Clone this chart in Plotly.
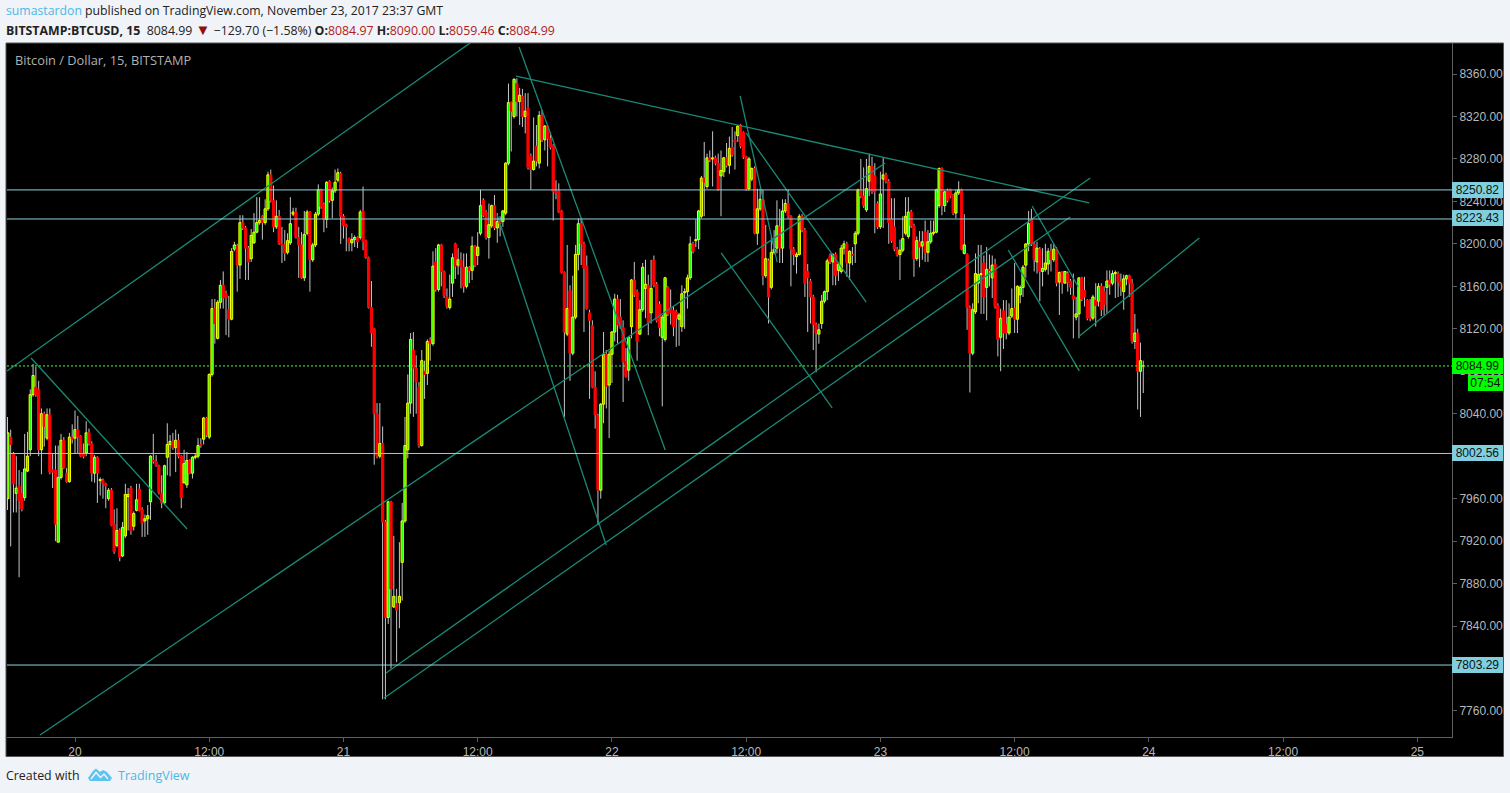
import numpy as np
import plotly.graph_objects as go

# 15-minute BTCUSD candles, hours are counted from Nov 20 00:00
FIRST_HOUR = -6.0
STEP_HOURS = 0.25

OPENS = [
7960,8018,8002,7965,7972,7965,7961,7986,8006,8058,
8065,8063,8006,8040,8017,8039,7987,7987,7919,7980,
8015,7984,7976,8018,8017,8025,8019,8002,8003,8022,
8012,7984,7999,7977,7977,7974,7960,7968,7936,7916,
7930,7906,7925,7962,7970,7934,7949,7969,7950,7939,
7941,7957,7996,7995,7991,7965,7956,7999,8011,8014,
8008,8015,8000,7975,7973,7996,7984,7999,8000,8011,
8016,8036,8018,8077,8139,8111,8145,8161,8153,8138,
8129,8195,8198,8180,8220,8215,8196,8186,8201,8211,
8220,8226,8220,8233,8265,8241,8216,8226,8200,8199,
8192,8201,8228,8230,8206,8199,8168,8210,8230,8185,
8199,8228,8251,8237,8223,8259,8241,8250,8260,8266,
8226,8218,8205,8201,8204,8206,8206,8231,8203,8187,
8140,8120,8040,8000,8012,7938,7848,7957,7858,7861,
7862,7900,7939,8006,8050,8100,8083,8065,8010,8080,
8078,8110,8106,8183,8157,8199,8174,8150,8140,8163,
8200,8180,8185,8178,8160,8178,8175,8198,8189,8210,
8241,8230,8206,8217,8236,8215,8221,8221,8229,8276,
8333,8320,8351,8334,8339,8320,8328,8283,8270,8292,
8276,8321,8298,8311,8299,8293,8249,8250,8231,8173,
8115,8156,8097,8131,8190,8219,8200,8179,8135,8123,
8065,8038,7968,8049,8096,8067,8096,8117,8148,8131,
8121,8089,8081,8122,8166,8155,8115,8138,8158,8161,
8135,8185,8162,8143,8112,8110,8159,8140,8137,8136,
8129,8122,8154,8155,8168,8200,8203,8204,8226,8262,
8254,8281,8280,8281,8276,8264,8268,8281,8274,8291,
8298,8302,8312,8305,8282,8252,8261,8271,8210,8233,
8242,8170,8184,8159,8192,8196,8216,8196,8231,8238,
8226,8195,8188,8190,8226,8213,8174,8165,8150,8124,
8115,8125,8146,8155,8189,8183,8190,8175,8174,8196,
8200,8182,8190,8200,8210,8251,8245,8232,8259,8273,
8264,8238,8216,8261,8265,8259,8223,8216,8195,8190,
8194,8210,8207,8230,8217,8186,8202,8198,8211,8192,
8202,8210,8211,8236,8271,8236,8250,8251,8246,8229,
8248,8251,8191,8190,8140,8097,8136,8163,8171,8182,
8159,8176,8168,8181,8142,8112,8137,8124,8116,8132,
8139,8129,8152,8159,8180,8200,8223,8200,8183,8195,
8174,8176,8181,8193,8185,8195,8164,8174,8163,8172,
8165,8151,8131,8134,8168,8156,8147,8131,8130,8147,
8146,8160,8155,8159,8166,8163,8172,8172,8164,8155,
8167,8170,8163,8108,8116,8080,8084.97]

CLOSES = [
8022,8011,7974,7970,7958,7950,7988,8000,8058,8076,
8058,8006,8040,8028,8039,7985,7985,7936,7980,8015,
7989,7976,8018,8016,8025,8018,8000,8000,8022,8012,
7984,7999,7984,7978,7974,7972,7968,7935,7910,7930,
7905,7933,7964,7964,7930,7946,7959,7949,7937,7941,
7944,8000,7995,7991,7966,7956,7991,8011,8014,8008,
8015,8000,7961,7993,7996,7984,7999,8000,8010,8010,
8036,8020,8077,8139,8125,8145,8161,8149,8149,8129,
8193,8199,8180,8220,8215,8196,8183,8208,8211,8220,
8222,8220,8233,8265,8241,8216,8226,8200,8199,8191,
8203,8219,8230,8206,8199,8168,8209,8230,8185,8199,
8228,8251,8235,8223,8258,8241,8250,8258,8267,8226,
8217,8216,8201,8204,8206,8202,8230,8202,8187,8140,
8116,8040,8000,8012,7938,7848,7957,7875,7868,7855,
7868,7939,8010,8050,8110,8083,8070,8010,8090,8077,
8108,8106,8179,8157,8199,8174,8151,8141,8148,8187,
8179,8185,8178,8160,8178,8175,8198,8180,8197,8236,
8227,8206,8218,8236,8215,8221,8219,8231,8276,8333,
8325,8355,8334,8340,8320,8325,8272,8270,8278,8278,
8321,8298,8311,8299,8291,8249,8248,8230,8173,8117,
8139,8097,8131,8190,8219,8200,8177,8139,8128,8065,
8039,7968,8049,8096,8066,8096,8117,8148,8124,8121,
8089,8075,8112,8166,8152,8108,8138,8178,8162,8126,
8158,8161,8128,8121,8131,8168,8134,8135,8122,8130,
8133,8153,8155,8168,8200,8193,8204,8231,8262,8258,
8281,8279,8281,8276,8251,8269,8281,8274,8290,8284,
8296,8311,8292,8282,8252,8280,8271,8210,8233,8242,
8170,8186,8150,8192,8195,8217,8196,8231,8238,8226,
8195,8190,8190,8226,8213,8163,8168,8150,8124,8116,
8119,8146,8155,8184,8183,8190,8170,8181,8196,8200,
8182,8193,8189,8210,8251,8245,8236,8252,8273,8249,
8249,8216,8247,8265,8259,8220,8203,8195,8190,8194,
8205,8226,8230,8217,8186,8203,8197,8202,8192,8202,
8210,8211,8251,8271,8236,8249,8241,8245,8229,8248,
8251,8195,8199,8140,8097,8138,8172,8171,8172,8150,
8176,8175,8180,8141,8110,8130,8116,8116,8131,8139,
8129,8160,8159,8178,8200,8219,8200,8185,8196,8174,
8177,8182,8193,8185,8195,8163,8173,8163,8174,8164,
8159,8148,8134,8168,8148,8150,8130,8130,8150,8142,
8160,8138,8143,8165,8162,8172,8173,8164,8160,8167,
8170,8163,8108,8116,8080,8090,8084.99]

HIGHS = [
8037,8025,8004,8000,7987,7985,8021,8023,8063,8087,
8084,8071,8045,8042,8045,8045,8003,8010,8010,8021,
8018,7989,8022,8030,8043,8038,8020,8012,8033,8026,
8014,8001,8000,7980,7979,7975,7970,7970,7950,7951,
7932,7938,7974,7970,7972,7948,7974,7974,7952,7945,
7954,8001,8021,8001,7992,7982,7992,8031,8020,8022,
8025,8021,8001,8006,8004,7997,8000,8002,8017,8017,
8037,8037,8078,8148,8148,8147,8166,8174,8156,8151,
8196,8202,8200,8227,8227,8217,8198,8214,8229,8244,
8244,8227,8242,8268,8270,8255,8241,8232,8216,8213,
8210,8244,8234,8234,8216,8211,8231,8232,8231,8201,
8230,8256,8252,8239,8259,8260,8253,8270,8271,8268,
8228,8219,8206,8210,8208,8207,8232,8254,8204,8188,
8165,8121,8050,8050,8028,7940,7958,7958,7925,7875,
7919,7956,8037,8077,8116,8117,8095,8070,8100,8090,
8110,8112,8193,8196,8200,8200,8175,8158,8171,8191,
8201,8196,8192,8191,8191,8179,8207,8199,8211,8251,
8243,8232,8238,8237,8246,8229,8226,8232,8277,8351,
8334,8356,8356,8347,8346,8342,8342,8285,8319,8312,
8325,8326,8312,8312,8305,8294,8260,8257,8232,8174,
8199,8161,8170,8199,8224,8224,8202,8189,8138,8128,
8080,8040,8050,8117,8100,8099,8118,8153,8152,8148,
8128,8102,8113,8167,8183,8157,8147,8182,8185,8171,
8185,8189,8164,8146,8133,8169,8160,8157,8141,8138,
8135,8161,8158,8171,8207,8202,8223,8232,8264,8296,
8285,8288,8306,8283,8285,8288,8282,8295,8301,8310,
8306,8312,8313,8306,8283,8282,8272,8273,8252,8252,
8251,8218,8186,8207,8213,8241,8233,8242,8242,8251,
8227,8197,8192,8228,8228,8215,8181,8167,8152,8126,
8125,8152,8156,8186,8191,8191,8192,8183,8199,8203,
8202,8194,8197,8212,8252,8280,8272,8280,8285,8282,
8276,8240,8268,8281,8267,8261,8243,8243,8197,8204,
8226,8244,8244,8232,8219,8207,8212,8212,8222,8213,
8222,8222,8252,8272,8272,8250,8252,8252,8247,8251,
8259,8252,8228,8191,8142,8144,8191,8199,8199,8189,
8197,8190,8189,8186,8144,8139,8147,8147,8144,8158,
8182,8161,8161,8180,8200,8231,8233,8202,8202,8197,
8196,8200,8196,8200,8200,8197,8174,8174,8174,8174,
8167,8172,8150,8168,8169,8169,8148,8148,8152,8163,
8163,8163,8160,8175,8175,8175,8175,8174,8172,8171,
8171,8171,8167,8134,8120,8107,8090.00]

LOWS = [
7949,7915,7947,7947,7886,7948,7958,7985,8000,8056,
8056,8000,7983,8009,8015,7983,7970,7920,7919,7978,
7988,7975,7975,8012,8003,8003,7999,7998,8000,8010,
7976,7975,7956,7963,7960,7951,7958,7934,7908,7914,
7901,7905,7923,7930,7926,7930,7948,7948,7924,7924,
7926,7940,7993,7990,7964,7951,7955,7982,7981,8006,
7985,7998,7951,7974,7970,7983,7979,7997,7998,8008,
8011,8018,8016,8075,8106,8110,8139,8139,8114,8112,
8128,8193,8155,8167,8213,8166,8166,8183,8200,8210,
8218,8204,8218,8231,8239,8211,8214,8199,8182,8184,
8190,8199,8226,8205,8168,8167,8165,8208,8155,8183,
8197,8226,8233,8211,8215,8239,8224,8248,8258,8200,
8205,8193,8193,8193,8197,8196,8204,8194,8186,8139,
8103,7992,7998,7998,7771,7771,7842,7800,7857,7806,
7838,7864,7937,7998,8040,8037,8040,8008,8009,8054,
8067,8090,8104,8155,8155,8160,8149,8139,8138,8150,
8167,8171,8158,8154,8158,8163,8166,8178,8180,8208,
8225,8204,8186,8215,8213,8201,8207,8216,8227,8274,
8287,8318,8320,8312,8310,8304,8270,8251,8269,8273,
8271,8296,8288,8273,8289,8222,8242,8229,8172,8037,
8113,8071,8095,8129,8175,8180,8117,8138,8054,8064,
8026,7935,7960,8031,8045,8017,8069,8108,8106,8120,
8051,8074,8071,8111,8150,8090,8114,8136,8130,8114,
8125,8159,8126,8113,8047,8108,8132,8124,8113,8103,
8104,8117,8120,8139,8166,8191,8197,8195,8224,8226,
8252,8277,8254,8274,8250,8226,8263,8272,8266,8282,
8270,8296,8290,8280,8250,8250,8259,8209,8199,8231,
8161,8168,8125,8157,8190,8191,8182,8182,8229,8224,
8160,8180,8172,8189,8211,8150,8117,8125,8100,8079,
8106,8120,8144,8147,8181,8161,8161,8165,8172,8190,
8169,8166,8180,8182,8208,8243,8234,8230,8245,8247,
8210,8214,8214,8215,8257,8200,8201,8193,8188,8166,
8192,8208,8205,8215,8169,8184,8178,8185,8183,8183,
8200,8208,8210,8234,8227,8230,8239,8243,8227,8224,
8246,8194,8190,8119,8060,8095,8134,8144,8134,8134,
8128,8160,8149,8139,8094,8080,8101,8110,8114,8130,
8116,8116,8144,8150,8168,8193,8198,8174,8172,8146,
8160,8174,8171,8174,8183,8160,8133,8153,8163,8155,
8152,8111,8128,8111,8146,8141,8128,8127,8128,8122,
8141,8132,8133,8135,8152,8161,8149,8150,8151,8138,
8161,8150,8106,8101,8044,8037,8059.46]

assert len(OPENS) == len(CLOSES) == len(HIGHS) == len(LOWS) == 407

# Drawn trend lines: start hour, start price, end hour, end price
TREND_X0 = [-6.08, -3.13, 27.81, 27.63, -3.93, 39.70, 37.74, 39.43, 59.46, 60.00, 57.77, 83.43, 85.57, 89.69]
TREND_Y0 = [8080.3, 7737.4, 7795.8, 7772.3, 8092.5, 8385.4, 8227.2, 8358.1, 8339.3, 8304.4, 8191.4, 8194.2, 8235.7, 8112.3]
TREND_X1 = [35.32, 72.43, 90.76, 88.97, 10.02, 52.76, 47.48, 90.67, 62.77, 70.73, 67.69, 89.78, 89.69, 100.51]
TREND_Y1 = [8389.2, 8276.2, 8262.0, 8225.3, 7931.4, 8005.8, 7916.4, 8238.5, 8182.9, 8145.2, 8045.4, 8080.3, 8159.4, 8205.5]

LEVELS = [8250.82, 8223.43, 8002.56, 7803.29]
LEVEL_BADGE_Y = [190, 218, 453, 665]
LAST_PRICE = 8084.99
PRICE_TICKS = list(range(7760, 8361, 40))
# 8000 and 7800 sit wholly under their level badges in the reference
PRICE_LABELS = ["" if v in (8000, 7800) else f"{v}.00" for v in PRICE_TICKS]
TIME_TICKS = [0, 12, 24, 36, 48, 60, 72, 84, 96, 108, 120]
TIME_LABELS = ["20", "12:00", "21", "12:00", "22", "12:00", "23", "12:00", "24", "12:00", "25"]
X_RANGE = [-6.08, 123.1]
Y_RANGE = [7735.5, 8389.2]

W, H = 1510, 793
BG = "#f0f3f7"
TEAL = "#1a8a76"
LEVEL_COLOR = "#8ad4e0"
AXIS_GREY = "#5e5e5e"
LABEL_GREY = "#b8b8b8"
BLUE = "#4fb6e6"
DARK_RED = "#b01c1c"


def px(x):
    return x / W


def py(y):
    return 1 - y / H


opens = np.array(OPENS, dtype=float)
closes = np.array(CLOSES, dtype=float)
highs = np.array(HIGHS, dtype=float)
lows = np.array(LOWS, dtype=float)
hours = FIRST_HOUR + STEP_HOURS * np.arange(len(opens))
up = closes >= opens

fig = go.Figure()

# wicks sit on the base axes, so the bodies on the overlaying axes cover them
wx, wy = [], []
for t, hi, lo in zip(hours, highs, lows):
    wx += [t, t, None]
    wy += [lo, hi, None]
fig.add_trace(go.Scatter(x=wx, y=wy, mode="lines", line=dict(color="#c6c6c6", width=1), hoverinfo="skip"))

fig.add_trace(go.Bar(
    x=hours, base=np.minimum(opens, closes), y=np.abs(closes - opens), width=0.2,
    xaxis="x2", yaxis="y2",
    marker=dict(
        color=["#00ff00" if u else "#ff0000" for u in up],
        line=dict(color=["#ffff00" if u else "#ff0000" for u in up], width=1),
    ),
    hoverinfo="skip",
))

tx, ty = [], []
for a, b, c, d in zip(TREND_X0, TREND_Y0, TREND_X1, TREND_Y1):
    tx += [a, c, None]
    ty += [b, d, None]
fig.add_trace(go.Scatter(x=tx, y=ty, mode="lines", xaxis="x2", yaxis="y2",
                         line=dict(color=TEAL, width=1.3), hoverinfo="skip"))

shapes = [dict(
    type="rect", xref="paper", yref="paper", layer="below",
    x0=px(6), x1=px(1503.5), y0=py(756.5), y1=py(43),
    fillcolor="#000000", line=dict(color="#555555", width=1),
)]
for lv in LEVELS:
    shapes.append(dict(type="line", xref="x domain", yref="y", x0=0, x1=1, y0=lv, y1=lv,
                       line=dict(color=LEVEL_COLOR, width=1), layer="above"))
shapes.append(dict(type="line", xref="x domain", yref="y", x0=0, x1=1, y0=LAST_PRICE, y1=LAST_PRICE,
                   line=dict(color="#40ff40", width=1, dash="2px,2px"), layer="above"))


def poly(points):
    return "M" + "L".join(f"{px(x):.5f},{py(y):.5f}" for x, y in points)


shapes.append(dict(
    type="path", xref="paper", yref="paper", layer="above",
    path=poly([(88, 778), (93, 771), (96, 768.5), (100, 772), (103, 770), (107, 772), (112, 778), (110, 781), (90, 781)]) + "Z",
    fillcolor="#5cc4ee", line=dict(width=0),
))
shapes.append(dict(
    type="path", xref="paper", yref="paper", layer="above",
    path=poly([(91, 779), (96, 772.5), (100.5, 777.5), (104, 774), (108, 779)]),
    line=dict(color=BG, width=1.5),
))

FONT = "Open Sans"
NUM = "Liberation Sans"


def text(x, y, s, size=12.0, color="#222222", family=FONT):
    return dict(xref="paper", yref="paper", x=px(x), y=py(y), text=s, showarrow=False,
                xanchor="left", yanchor="middle", align="left",
                font=dict(family=family, size=size, color=color), borderpad=0, borderwidth=0)


def badge(x0, x1, y, s, color):
    return dict(xref="paper", yref="paper", x=px(x0), y=py(y), text=s, showarrow=False,
                xanchor="left", yanchor="middle", align="center",
                width=x1 - x0, height=16, bgcolor=color, borderpad=0, borderwidth=0,
                font=dict(family=NUM, size=12, color="#111111"))


row1 = f'<span style="color:{BLUE}">sumastardon</span> published on TradingView.com, November 23, 2017 23:37 GMT'
row2 = (
    "<b>BITSTAMP:BTCUSD, 15</b>  8084.99 "
    f'<span style="color:#8c1010;font-size:15px">▼</span> −129.70 (−1.58%) '
    f'<b>O:</b><span style="color:{DARK_RED}">8084.97</span> '
    f'<b>H:</b><span style="color:{DARK_RED}">8090.00</span> '
    f'<b>L:</b><span style="color:{DARK_RED}">8059.46</span> '
    f'<b>C:</b><span style="color:{DARK_RED}">8084.99</span>'
)

annotations = [
    text(6, 11, row1, size=12.25),
    text(6, 29, row2, size=12.35),
    text(15, 60, "Bitcoin / Dollar, 15, BITSTAMP", size=12.8, color="#b0b0b0"),
    text(6, 775, "Created with", size=12.4),
    text(118, 775, "TradingView", size=12.5, color=BLUE),
]
for lv, yy in zip(LEVELS, LEVEL_BADGE_Y):
    annotations.append(badge(1452, 1503, yy, f"{lv:.2f}", "#7fcfdf"))
annotations.append(badge(1452, 1503, 366, f"{LAST_PRICE:.2f}", "#00ff00"))
annotations.append(badge(1468, 1503, 383, "07:54", "#00ff00"))

fig.update_layout(
    width=W, height=H, autosize=False,
    margin=dict(l=0, r=0, t=0, b=0, pad=0),
    paper_bgcolor=BG, plot_bgcolor="#000000",
    showlegend=False, barmode="overlay", hovermode=False,
    shapes=shapes, annotations=annotations,
    xaxis=dict(
        domain=[px(7), px(1452)], range=X_RANGE,
        tickmode="array", tickvals=TIME_TICKS, ticktext=TIME_LABELS,
        showgrid=False, zeroline=False, showline=True, linecolor=AXIS_GREY, linewidth=1,
        ticks="outside", ticklen=4, tickcolor=AXIS_GREY, tickwidth=1,
        tickfont=dict(family=NUM, size=12, color=LABEL_GREY), fixedrange=True,
    ),
    yaxis=dict(
        domain=[py(737), py(43)], range=Y_RANGE, side="right", anchor="x",
        tickmode="array", tickvals=PRICE_TICKS, ticktext=PRICE_LABELS,
        showgrid=False, zeroline=False, showline=True, linecolor=AXIS_GREY, linewidth=1,
        ticks="outside", ticklen=4, tickcolor=AXIS_GREY, tickwidth=1,
        tickfont=dict(family=NUM, size=12, color=LABEL_GREY), fixedrange=True,
    ),
    xaxis2=dict(domain=[px(7), px(1452)], range=X_RANGE, overlaying="x", anchor="y2", visible=False, fixedrange=True),
    yaxis2=dict(domain=[py(737), py(43)], range=Y_RANGE, overlaying="y", anchor="x2", visible=False, fixedrange=True),
)

fig.write_html(
    "out.html",
    config={"displayModeBar": False},
    post_script=(
        f"document.body.style.margin='0';document.body.style.overflow='hidden';document.body.style.background='{BG}';"
        "var w=document.querySelector('.scatterlayer .trace .js-line');if(w){w.style.shapeRendering='crispEdges';}"
    ),
)
